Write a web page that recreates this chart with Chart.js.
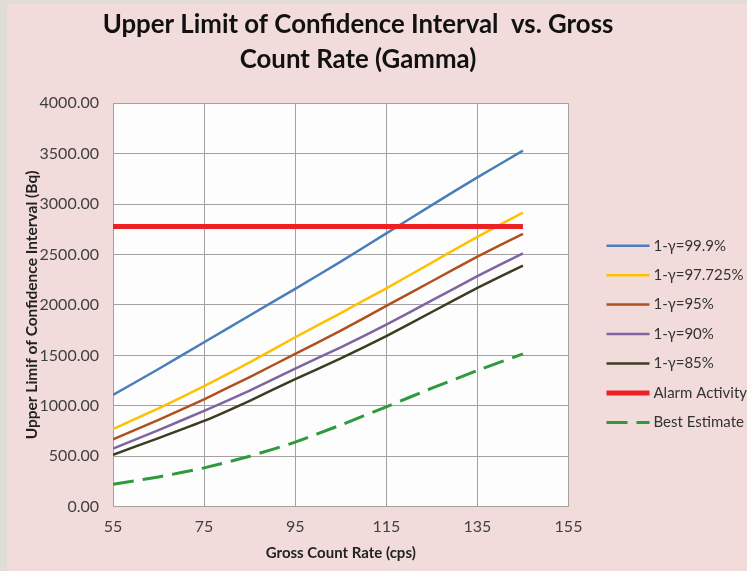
<!DOCTYPE html>
<html>
<head>
<meta charset="utf-8">
<script src="https://cdn.jsdelivr.net/npm/chart.js@4"></script>
<style>
  html, body { margin: 0; padding: 0; background: #dfddd5; }
  #wrap { position: absolute; left: 7px; top: 4px; width: 740px; height: 567px; background: #f2dcdb; }
</style>
</head>
<body>
<div id="wrap"><canvas id="chart"></canvas></div>
<script>
// ── Data ─────────────────────────────────────────────────────────────────────
const countRate   = [55, 65, 75, 85, 95, 105, 115, 125, 135, 145];
const ci999       = [1107, 1365, 1630, 1895, 2160, 2430, 2710, 2990, 3265, 3530];
const ci97725     = [770, 975, 1195, 1430, 1680, 1920, 2165, 2420, 2675, 2915];
const ci95        = [668, 860, 1065, 1285, 1515, 1745, 1990, 2235, 2480, 2705];
const ci90        = [575, 760, 950, 1150, 1370, 1580, 1805, 2045, 2285, 2512];
const ci85        = [515, 680, 850, 1050, 1265, 1470, 1690, 1930, 2170, 2390];
const alarm       = [2777, 2777, 2777, 2777, 2777, 2777, 2777, 2777, 2777, 2777];
const bestEst     = [222, 295, 385, 500, 640, 810, 990, 1175, 1350, 1515];
const seriesNames = ['1-γ=99.9%', '1-γ=97.725%', '1-γ=95%', '1-γ=90%', '1-γ=85%', 'Alarm Activity', 'Best Estimate'];

const FONT = 'Lato, "Open Sans", sans-serif';
const pts = ys => countRate.map((x, i) => ({ x: x, y: ys[i] }));

function series(i, ys, color, width, dash) {
  return {
    label: seriesNames[i],
    data: pts(ys),
    borderColor: color,
    backgroundColor: color,
    borderWidth: width,
    borderDash: dash || [],
    pointRadius: 0,
    tension: 0.15,
    fill: false,
    order: 10 - i
  };
}

// ── White plot area behind the lines ─────────────────────────────────────────
const plotBg = {
  id: 'plotBg',
  beforeDraw(chart) {
    const { ctx, chartArea: a } = chart;
    ctx.save();
    ctx.fillStyle = '#fdfdfd';
    ctx.fillRect(a.left, a.top, a.right - a.left, a.bottom - a.top);
    ctx.restore();
  }
};

// ── Legend with line samples, Excel style ────────────────────────────────────
const lineLegend = {
  id: 'lineLegend',
  afterDraw(chart) {
    const ctx = chart.ctx;
    const x0 = 599.5, x1 = 642.5, tx = 646.5, y0 = 241.7, step = 29.45;
    ctx.save();
    ctx.font = '15px ' + FONT;
    ctx.textBaseline = 'middle';
    ctx.textAlign = 'left';
    chart.data.datasets.forEach((ds, i) => {
      const y = y0 + i * step;
      ctx.strokeStyle = ds.borderColor;
      ctx.lineWidth = ds.borderWidth;
      ctx.setLineDash(ds.borderDash);
      ctx.beginPath();
      ctx.moveTo(x0, y);
      ctx.lineTo(x1, y);
      ctx.stroke();
      ctx.setLineDash([]);
      ctx.fillStyle = '#333333';
      ctx.fillText(ds.label, tx, y);
    });
    ctx.restore();
  }
};

new Chart(document.getElementById('chart'), {
  type: 'line',
  data: {
    datasets: [
      series(0, ci999,   '#4a7ebb', 2.5),
      series(1, ci97725, '#ffc000', 2.5),
      series(2, ci95,    '#b0501e', 2.5),
      series(3, ci90,    '#8064a2', 2.5),
      series(4, ci85,    '#3c3c22', 2.5),
      series(5, alarm,   '#ee2024', 5),
      series(6, bestEst, '#2e9a3c', 3, [21, 9])
    ]
  },
  options: {
    responsive: true,
    maintainAspectRatio: false,
    animation: false,
    layout: { padding: { left: 0, right: 38, top: 0, bottom: 0 } },
    scales: {
      x: {
        type: 'linear',
        min: 55, max: 155,
        ticks: { stepSize: 20, color: '#404040', font: { family: FONT, size: 16 }, padding: 11 },
        grid: { color: '#a59f9f', lineWidth: 1, drawTicks: false },
        border: { color: '#a59f9f' },
        title: { display: true, text: 'Gross Count Rate (cps)', color: '#222222',
                 font: { family: FONT, size: 15, weight: 'bold' }, padding: { top: 0, bottom: 8.8 } },
        afterFit: s => { s.height = 64.3; }
      },
      y: {
        min: 0, max: 4000,
        ticks: { stepSize: 500, color: '#404040', font: { family: FONT, size: 16 }, padding: 14,
                 callback: v => Number(v).toFixed(2) },
        grid: { color: '#a59f9f', lineWidth: 1, drawTicks: false },
        border: { color: '#a59f9f' },
        title: { display: true, text: 'Upper Limif of Confidence Interval (Bq)', color: '#222222',
                 font: { family: FONT, size: 15.5, weight: 'bold' }, padding: { top: 15.2, bottom: 0 } },
        afterFit: s => { s.width = 106; }
      },
      legendSpace: {
        type: 'linear',
        position: 'right',
        display: true,
        grid: { display: false, drawTicks: false },
        border: { display: false },
        ticks: { display: false },
        afterFit: s => { s.width = 140.5; }
      }
    },
    plugins: {
      legend: { display: false },
      tooltip: { enabled: false },
      title: {
        display: true,
        text: ['Upper Limit of Confidence Interval  vs. Gross', 'Count Rate (Gamma)'],
        color: '#111111',
        font: { family: FONT, size: 25.8, weight: 'bold', lineHeight: 1.38 },
        padding: { top: 2.5, bottom: 25.5 }
      }
    }
  },
  plugins: [plotBg, lineLegend]
});
</script>
</body>
</html>
